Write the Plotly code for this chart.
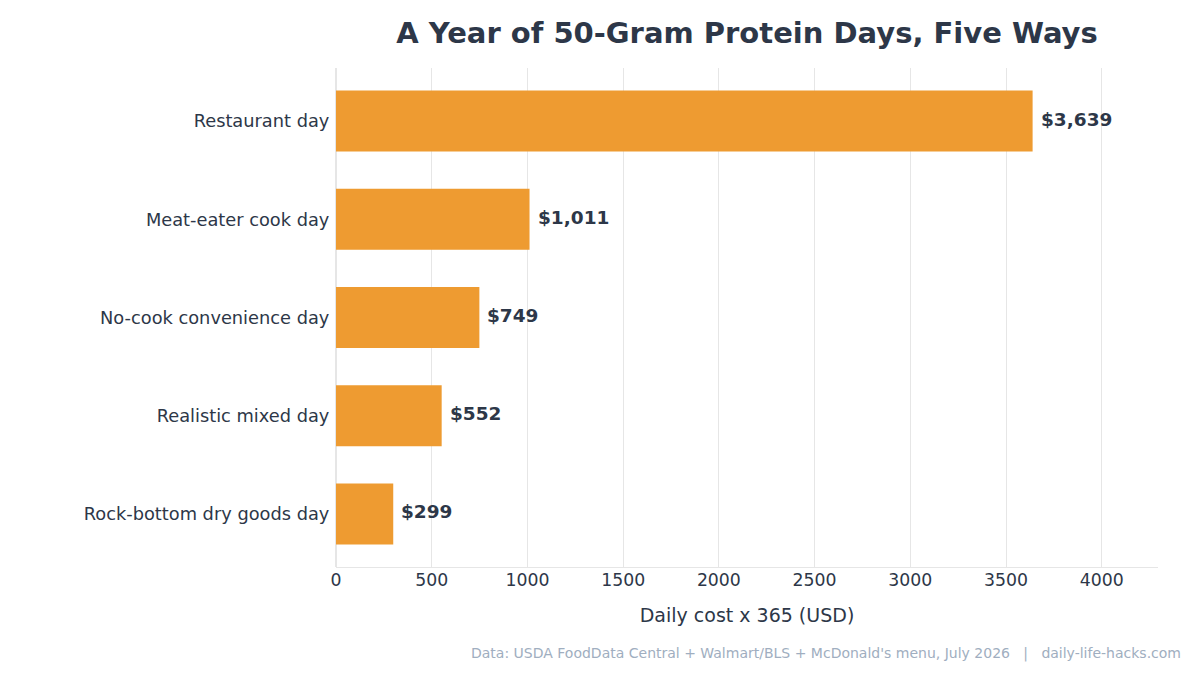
import plotly.graph_objects as go

# annual cost of a 50 g protein day, five ways (bottom to top)
scenarios = [
    "Rock-bottom dry goods day",
    "Realistic mixed day",
    "No-cook convenience day",
    "Meat-eater cook day",
    "Restaurant day",
]
annual_cost = [299, 552, 749, 1011, 3639]
cost_labels = ["$299", "$552", "$749", "$1,011", "$3,639"]

INK = "#2d3748"
BAR = "#ee9b31"

fig = go.Figure()
fig.add_trace(go.Bar(
    x=annual_cost,
    y=scenarios,
    orientation="h",
    marker=dict(color=BAR, line=dict(width=0)),
    hoverinfo="skip",
))

# value labels just past the bar ends
labels = [
    dict(x=v, y=s, text="<b>%s</b>" % t, xref="x", yref="y",
         xanchor="left", yanchor="middle", xshift=6, yshift=2, showarrow=False,
         font=dict(size=18.5, color=INK))
    for v, s, t in zip(annual_cost, scenarios, cost_labels)
]

fig.update_layout(
    width=1200,
    height=675,
    paper_bgcolor="white",
    plot_bgcolor="white",
    font=dict(family="DejaVu Sans", color=INK, size=17),
    margin=dict(l=328, r=50, t=60, b=116),
    bargap=0.38,
    showlegend=False,
    title=dict(
        text="<b>A Year of 50-Gram Protein Days, Five Ways</b>",
        x=0.5, xref="paper", xanchor="center",
        y=0.963, yref="container", yanchor="middle",
        font=dict(size=29, color=INK),
    ),
    xaxis=dict(
        range=[0, max(annual_cost) * 1.18],
        dtick=500,
        showgrid=True,
        gridcolor="#e6e6e6",
        zeroline=True,
        zerolinecolor="#e6e6e6",
        showline=True,
        linecolor="#e6e6e6",
        ticks="",
        ticklabelstandoff=-3,
        tickfont=dict(size=17.3, color=INK),
        title=dict(text="Daily cost x 365 (USD)", font=dict(size=19, color=INK), standoff=19),
    ),
    yaxis=dict(
        showgrid=False,
        ticks="",
        range=[-0.54, len(scenarios) - 0.46],
        tickfont=dict(size=17.8, color=INK),
        ticksuffix=" ",
    ),
    annotations=labels + [dict(
        text="Data: USDA FoodData Central + Walmart/BLS + McDonald's menu, July 2026   |   daily-life-hacks.com",
        xref="paper", yref="paper",
        x=1, y=-0.174,
        xanchor="right", yanchor="middle",
        xshift=25,
        showarrow=False,
        font=dict(size=14, color="#a0aec0"),
    )],
)

fig.write_html("out.html")
